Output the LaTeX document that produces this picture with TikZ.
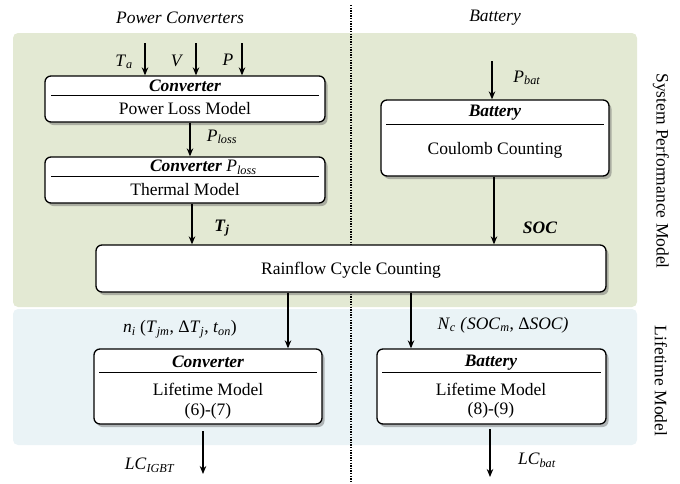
\documentclass[tikz,border=0pt]{standalone}
\usepackage{fontspec}
\setmainfont{Liberation Serif}
\usetikzlibrary{arrows.meta,shadows}
\newcommand\isub[2]{\textit{#1}\textsubscript{\textit{#2}}}
\definecolor{greenbg}{RGB}{227,233,211}
\definecolor{bluebg}{RGB}{234,243,246}
\begin{document}
\begin{tikzpicture}[x=1pt,y=-1pt,
  every node/.style={font=\fontsize{17.5}{20}\selectfont, inner sep=0pt},
  box/.style={draw, line width=1.3pt, rounded corners=6pt, fill=white,
    drop shadow={shadow xshift=2.5pt, shadow yshift=-3pt, fill=black!60, opacity=0.45}},
  region/.style={rounded corners=5pt},
  arr/.style={line width=1.2pt, -{Stealth[length=8pt,width=6.5pt]}},
  sep/.style={line width=0.9pt},
  ttl/.style={font=\fontsize{17.5}{20}\selectfont\bfseries\itshape},
  lbl/.style={font=\fontsize{17.5}{20}\selectfont\itshape}]
\useasboundingbox (0,0) rectangle (680,483);
% regions
\fill[region, greenbg] (13,33) rectangle (637,307);
\fill[region, bluebg] (13,309) rectangle (637,445);
% divider
\draw[line width=1.2pt, dash pattern=on 1.3pt off 1.3pt] (351,5) -- (351,483);
% headings
\node[lbl] (hpc) at (180,18) {Power Converters};
\node[lbl] (hbat) at (495,18) {Battery};
\node[rotate=-90] (sysm) at (661,171) {System Performance Model};
\node[rotate=-90] (lifm) at (661,381) {Lifetime Model};
% boxes
\node[box, minimum width=280pt, minimum height=46pt] (b1) at (185,99) {};
\node[box, minimum width=280pt, minimum height=46pt] (b2) at (185,180) {};
\node[box, minimum width=228pt, minimum height=76pt] (bb) at (495,138) {};
\node[box, minimum width=510pt, minimum height=47pt] (rf) at (351,268.5) {};
\node[box, minimum width=228pt, minimum height=75pt] (cl) at (208,386.5) {};
\node[box, minimum width=229pt, minimum height=75pt] (bl) at (491.5,386.5) {};
% separator lines
\draw[sep] ([xshift=7pt]b1.west |- 0,95) -- ([xshift=-7pt]b1.east |- 0,95);
\draw[sep] ([xshift=7pt]b2.west |- 0,176) -- ([xshift=-7pt]b2.east |- 0,176);
\draw[sep] ([xshift=6pt]bb.west |- 0,124) -- ([xshift=-6pt]bb.east |- 0,124);
\draw[sep] ([xshift=6pt]cl.west |- 0,372) -- ([xshift=-6pt]cl.east |- 0,372);
\draw[sep] ([xshift=6pt]bl.west |- 0,372) -- ([xshift=-6pt]bl.east |- 0,372);
% box texts
\node[ttl] (t1) at (185,86) {Converter};
\node (x1) at (185,109) {Power Loss Model};
\node[ttl] (t2) at (186,166) {Converter};
\node[anchor=base west] (t2p) at ([xshift=4pt]t2.base east) {\isub{P}{loss}};
\node (x2) at (185,190) {Thermal Model};
\node[ttl] (tb) at (495,113) {Battery};
\node (xb) at (495,150) {Coulomb Counting};
\node (xrf) at (351,270) {Rainflow Cycle Counting};
\node[ttl] (tcl) at (208,362) {Converter};
\node (xcl1) at (208,389) {Lifetime Model};
\node (xcl2) at (208,411) {(6)-(7)};
\node[ttl] (tbl) at (491,363) {Battery};
\node (xbl1) at (491,389) {Lifetime Model};
\node (xbl2) at (491,410) {(8)-(9)};
% free ends
\coordinate (inTa) at (145,43);
\coordinate (inV) at (196,43);
\coordinate (inP) at (242,43);
\coordinate (inPb) at (492,61);
\coordinate (oCs) at (203,431);
\coordinate (oCe) at (203,474);
\coordinate (oBs) at (490,429);
\coordinate (oBe) at (490,477);
% arrows
\draw[arr] (inTa) -- (inTa |- b1.north);
\draw[arr] (inV) -- (inV |- b1.north);
\draw[arr] (inP) -- (inP |- b1.north);
\draw[arr] (b1.south -| 190,0) -- (b2.north -| 190,0);
\draw[arr] (b2.south -| 192,0) -- (rf.north -| 192,0);
\draw[arr] (inPb) -- (inPb |- bb.north);
\draw[arr] (bb.south -| 494,0) -- (rf.north -| 494,0);
\draw[arr] (rf.south -| 288,0) -- (cl.north -| 288,0);
\draw[arr] (rf.south -| 411,0) -- (bl.north -| 411,0);
\draw[arr] (oCs) -- (oCe);
\draw[arr] (oBs) -- (oBe);
% labels
\node (lTa) at (124,62) {\isub{T}{a}};
\node (lV) at (177,61) {\textit{V}};
\node (lP) at (228,60) {\textit{P}};
\node (lPl) at (222,137) {\isub{P}{loss}};
\node (lTj) at (222,228) {\textbf{\isub{T}{j}}};
\node (lPb) at (527,78) {\isub{P}{bat}};
\node (lSOC) at (540,228) {\textbf{\textit{SOC}}};
\node (lni) at (180,329) {\isub{n}{i} (\isub{T}{jm}, Δ\isub{T}{j}, \isub{t}{on})};
\node (lNc) at (503,325) {\isub{N}{c} \textit{(}\isub{SOC}{m}, Δ\textit{SOC)}};
\node (lLCI) at (150,465) {\isub{LC}{IGBT}};
\node (lLCb) at (537,460) {\isub{LC}{bat}};
\end{tikzpicture}
\end{document}
